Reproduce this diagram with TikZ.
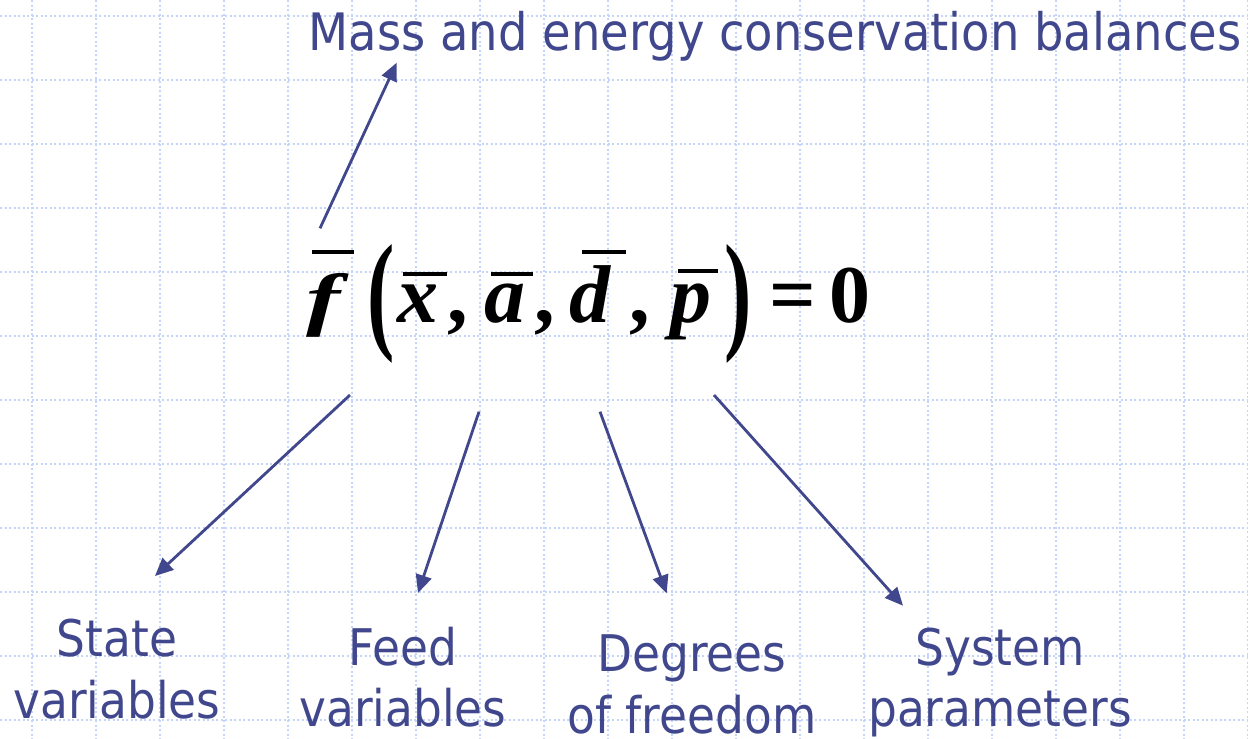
\documentclass[tikz,border=0pt]{standalone}
\usepackage{fontspec}
\usepackage{graphicx}
\usetikzlibrary{arrows.meta}
\newfontfamily\lblfont[FakeStretch=0.9]{DejaVu Sans}
\newfontfamily\eqfont{Liberation Serif}
\definecolor{inkblue}{RGB}{64,71,140}
\definecolor{gridc}{RGB}{196,212,250}
\tikzset{
  gridline/.style={gridc, line width=2pt, dash pattern=on 2pt off 2.5pt},
  lbl/.style={text=inkblue, font=\lblfont\fontsize{50.5}{61.5}\selectfont, align=center, inner sep=0pt},
  ttl/.style={lbl, font=\lblfont\fontsize{51.6}{61.5}\selectfont},
  glyph/.style={font=\eqfont\bfseries\itshape\fontsize{82}{82}\selectfont, inner sep=0pt, anchor=base},
  upglyph/.style={font=\eqfont\bfseries\fontsize{82}{82}\selectfont, inner sep=0pt, anchor=base},
  barline/.style={black, line width=4pt},
  arr/.style={inkblue, line width=2.8pt, -{Triangle[length=18pt,width=16pt]}},
}
\begin{document}
\begin{tikzpicture}[x=1pt,y=-1pt]
\fill[white] (0,0) rectangle (1248,739);
\useasboundingbox (0,0) rectangle (1248,739);
% grid
\foreach \gx in {32,96,...,1248} \draw[gridline] (\gx,0) -- (\gx,739);
\foreach \gy in {16,80,...,720} \draw[gridline] (0,\gy) -- (1248,\gy);
% title
\node[ttl, anchor=base] (title) at (775,50) {Mass and energy conservation balances};
% formula
\node[glyph] (f) at (324,322) {\scalebox{1.25}[0.85]{f}};
\node[upglyph, anchor=center] (lp) at (381.5,303.5) {\scalebox{1}[1.6]{(}};
\node[glyph] (x) at (418,322) {x};
\node[upglyph] (c1) at (457.5,322) {,};
\node[glyph] (a) at (505,322) {a};
\node[upglyph] (c2) at (545,322) {,};
\node[glyph] (d) at (590,322) {d};
\node[upglyph] (c3) at (639.5,322) {,};
\node[glyph] (p) at (691,322) {p};
\node[upglyph, anchor=center] (rp) at (738,303.5) {\scalebox{1}[1.6]{)}};
\node[upglyph] (eq) at (792.5,322) {=};
\node[upglyph] (zero) at (850,322) {0};
\draw[barline] (312,251.5) -- (354,251.5);
\draw[barline] (402.5,273.5) -- (446.5,273.5);
\draw[barline] (490.5,273.5) -- (532.6,273.5);
\draw[barline] (582,252) -- (626,252);
\draw[barline] (678,271) -- (718,271);
% labels (base = baseline of last line)
\node[lbl, anchor=base] (state) at (117,718.2) {State\\variables};
\node[lbl, anchor=base] (feed) at (403,726.5) {Feed\\variables};
\node[lbl, anchor=base] (dof) at (692,733.2) {Degrees\\of freedom};
\node[lbl, anchor=base] (sys) at (1000,726.5) {System\\parameters};
% arrow ends
\coordinate (mT) at (320,228.3);
\coordinate (mH) at (396.7,62.7);
\coordinate (sT) at (350,395);
\coordinate (sH) at (155,576);
\coordinate (fT) at (479,411.7);
\coordinate (fH) at (418,593);
\coordinate (dT) at (600,411.7);
\coordinate (dH) at (666.7,593.3);
\coordinate (pT) at (714,395);
\coordinate (pH) at (903,605.7);
\draw[arr] (mT) -- (mH);
\draw[arr] (sT) -- (sH);
\draw[arr] (fT) -- (fH);
\draw[arr] (dT) -- (dH);
\draw[arr] (pT) -- (pH);
\end{tikzpicture}
\end{document}
